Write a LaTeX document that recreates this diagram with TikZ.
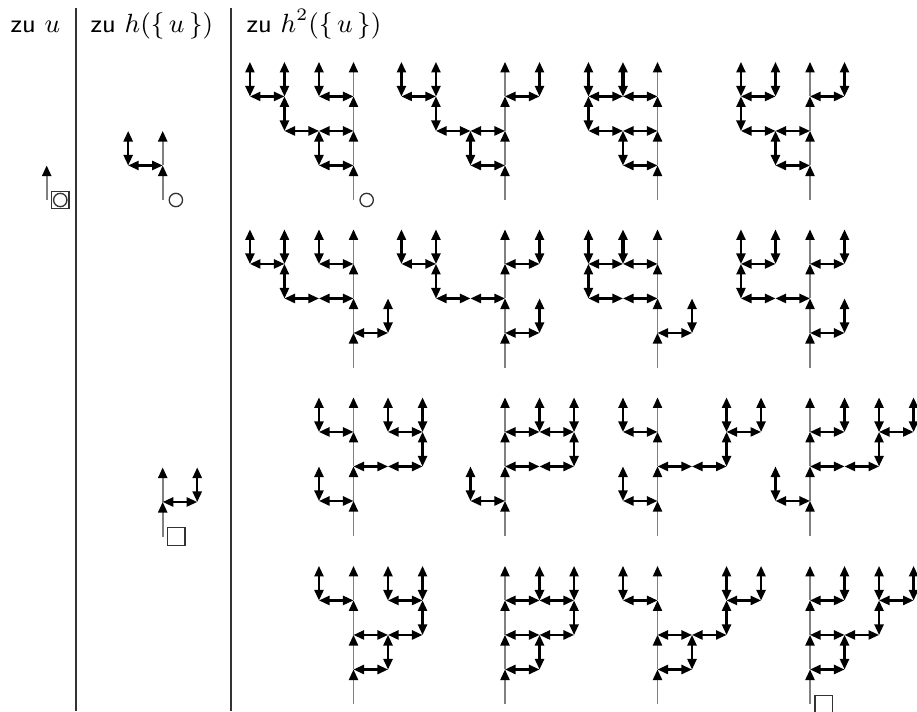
\documentclass[tikz,border=0pt]{standalone}
\usepackage{tikz}
\usetikzlibrary{arrows.meta, positioning}

\newcommand{\gridu}{0.414cm}
% one tree: root, trunk column, trunk length,
% horizontal links a/b = (a,b)--(a+1,b), vertical links a/b = (a,b)--(a,b+1), extra
\newcommand{\drawtree}[6]{%
    \begin{scope}[shift={(#1)}, x=\gridu, y=\gridu, xshift={-#2*\gridu}]
        \foreach \k in {1,...,#3}
            \draw[trunk] (#2,\k-1) -- (#2,\k);
        \foreach \a/\b in {#4}
            \draw[link] (\a,\b) -- (\a+1,\b);
        \foreach \a/\b in {#5}
            \draw[link] (\a,\b) -- (\a,\b+1);
        #6
    \end{scope}}

\begin{document}
\begin{tikzpicture}[
        x=0.012cm, y=-0.012cm,
        trunk/.style={draw=black!50, line width=0.65pt,
            -{Triangle[length=3.6pt, width=3.1pt, color=black]}},
        link/.style={draw=black, line width=0.75pt,
            {Triangle[length=3.6pt, width=3.1pt]}-{Triangle[length=3.6pt, width=3.1pt]}},
        doubled/.style={link, line width=1.1pt},
        markcirc/.style={circle, draw=black!80, line width=0.45pt, minimum size=0.16cm, inner sep=0pt},
        marksq/.style={rectangle, draw=black!80, line width=0.45pt, minimum size=0.21cm, inner sep=0pt},
        head/.style={anchor=base west, inner sep=0pt, font=\fontsize{8.8}{10}\selectfont}
    ]
        \useasboundingbox (0,0) rectangle (917,711);

        % column heads and rules
        \node[head] (hu) at (10,32) {\textsf{zu} $u$};
        \node[head] (hhu) at (90,32) {\textsf{zu} $h(\{\,u\,\})$};
        \node[head] (hhhu) at (246,32) {\textsf{zu} $h^2(\{\,u\,\})$};
        \draw[line width=0.5pt, black!80] (76,8) -- (76,711);
        \draw[line width=0.5pt, black!80] (231,8) -- (231,711);

        % u
        \coordinate (r0) at (46.7,200);
        \coordinate (r0top) at (46.7,165.5);
        \draw[trunk] (r0) -- (r0top);
        \node[marksq, right=0.05cm of r0] (m0) {};
        \node[markcirc] (m0c) at (m0) {};

        % h({u})
        \coordinate (r1) at (162.7,200);
        \coordinate (r2) at (162.7,536.5);
        \drawtree{r1}{1}{2}{0/1}{0/1}{}
        \drawtree{r2}{0}{2}{0/1}{1/1}{}
        \node[markcirc, right=0.07cm of r1] (m1) {};
        \node[marksq, right=0.05cm of r2] (m2) {};

        % h^2({u})
        \foreach \x [count=\i] in {353.5, 505, 657.5, 810}
            \foreach \y [count=\j] in {200, 367.5, 535.5, 704}
                \coordinate (t\j\i) at (\x,\y);

        \drawtree{t11}{3}{4}{2/1, 1/2, 2/2, 0/3, 2/3}{2/1, 1/2, 1/3, 0/3, 2/3}{}
        \drawtree{t12}{3}{4}{2/1, 1/2, 2/2, 0/3, 3/3}{2/1, 1/2, 1/3, 0/3, 4/3}{}
        \drawtree{t13}{2}{4}{1/1, 0/2, 1/2, 0/3, 1/3}{1/1, 0/2, 0/3}{\draw[doubled] (1,3) -- (1,4);}
        \drawtree{t14}{2}{4}{1/1, 0/2, 1/2, 0/3, 2/3}{1/1, 0/2, 0/3, 1/3, 3/3}{}

        \drawtree{t21}{3}{4}{3/1, 1/2, 2/2, 0/3, 2/3}{4/1, 1/2, 1/3, 0/3, 2/3}{}
        \drawtree{t22}{3}{4}{3/1, 1/2, 2/2, 0/3, 3/3}{4/1, 1/2, 1/3, 0/3, 4/3}{}
        \drawtree{t23}{2}{4}{2/1, 0/2, 1/2, 0/3, 1/3}{3/1, 0/2, 0/3}{\draw[doubled] (1,3) -- (1,4);}
        \drawtree{t24}{2}{4}{2/1, 0/2, 1/2, 0/3, 2/3}{3/1, 0/2, 0/3, 1/3, 3/3}{}

        \drawtree{t31}{1}{4}{0/1, 1/2, 2/2, 0/3, 2/3}{0/1, 3/2, 3/3, 0/3, 2/3}{}
        \drawtree{t32}{1}{4}{0/1, 1/2, 2/2, 1/3, 2/3}{0/1, 3/2, 3/3}{\draw[doubled] (2,3) -- (2,4);}
        \drawtree{t33}{1}{4}{0/1, 1/2, 2/2, 0/3, 3/3}{0/1, 3/2, 3/3, 0/3, 4/3}{}
        \drawtree{t34}{1}{4}{0/1, 1/2, 2/2, 1/3, 3/3}{0/1, 3/2, 3/3, 2/3, 4/3}{}

        \drawtree{t41}{1}{4}{1/1, 1/2, 2/2, 0/3, 2/3}{2/1, 3/2, 3/3, 0/3, 2/3}{}
        \drawtree{t42}{0}{4}{0/1, 0/2, 1/2, 0/3, 1/3}{1/1, 2/2, 2/3}{\draw[doubled] (1,3) -- (1,4);}
        \drawtree{t43}{1}{4}{1/1, 1/2, 2/2, 0/3, 3/3}{2/1, 3/2, 3/3, 0/3, 4/3}{}
        \drawtree{t44}{0}{4}{0/1, 0/2, 1/2, 0/3, 2/3}{1/1, 2/2, 2/3, 1/3, 3/3}{}

        \node[markcirc, right=0.07cm of t11] (m11) {};
        \node[marksq, right=0.05cm of t44] (m44) {};
    \end{tikzpicture}
\end{document}
